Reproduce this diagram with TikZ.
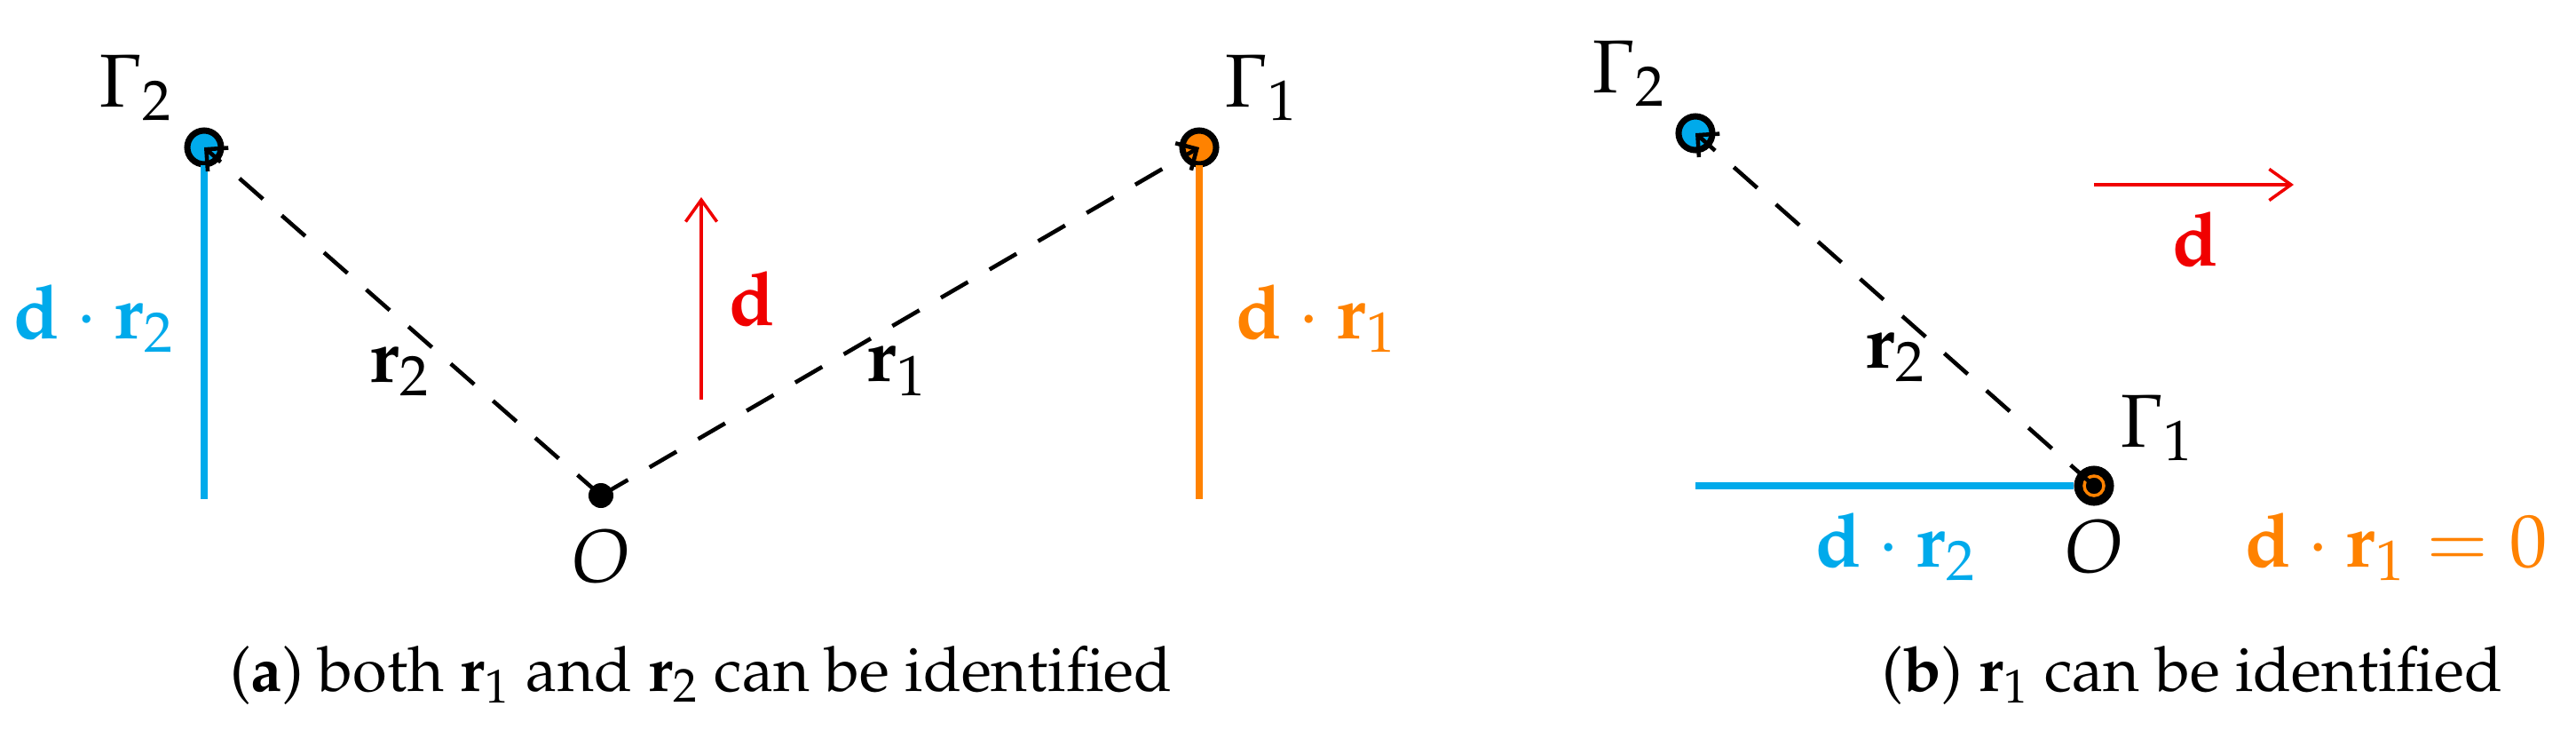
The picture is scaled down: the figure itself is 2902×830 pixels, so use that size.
\documentclass[tikz,border=0pt]{standalone}
\usepackage[T1]{fontenc}
\usepackage{mathpazo}
\usetikzlibrary{arrows.meta}
\definecolor{cblue}{RGB}{0,170,235}
\definecolor{corange}{RGB}{255,130,0}
\definecolor{cred}{RGB}{240,0,0}
\begin{document}
\begin{tikzpicture}[x=0.01cm,y=-0.01cm,
  lab/.style={font=\fontsize{24}{28}\selectfont, inner sep=0pt},
  captext/.style={font=\fontsize{20}{24}\selectfont, inner sep=0pt},
  pt/.style={circle, draw=black, line width=2pt, minimum size=0.38cm, inner sep=0pt},
  vec/.style={line width=1.3pt, dash pattern=on 10pt off 8pt, -{Straight Barb[length=5pt]}},
  dir/.style={cred, line width=1pt, -{Straight Barb[length=7pt,width=10pt]}},
  proj/.style={line width=2.3pt}]
\useasboundingbox (0,0) rectangle (2902,830);
% panel a
\node[pt, fill=cblue] (g2a) at (230,166) {};
\node[pt, fill=corange] (g1a) at (1351,166) {};
\node[circle, fill=black, minimum size=0.28cm, inner sep=0pt] (oa) at (677,558) {};
\node[lab] at (153,99) {$\Gamma_2$};
\node[lab] at (1421,99) {$\Gamma_1$};
\node[lab] at (677,627) {$O$};
\coordinate (b2t) at (230,186); \coordinate (b2b) at (230,562);
\draw[proj, cblue] (b2t) -- (b2b);
\coordinate (o1t) at (1351,186); \coordinate (o1b) at (1351,562);
\draw[proj, corange] (o1t) -- (o1b);
\node[lab, text=cblue] at (105,359) {$\mathbf{d}\cdot\mathbf{r}_2$};
\node[lab, text=corange] at (1482,359) {$\mathbf{d}\cdot\mathbf{r}_1$};
\draw[vec] (oa.center) -- (g2a.center);
\draw[vec] (oa.center) -- (g1a.center);
\node[lab] at (450,418) {$\mathbf{r}_2$};
\node[lab] at (1010,418) {$\mathbf{r}_1$};
\coordinate (da0) at (790,450); \coordinate (da1) at (790,222);
\draw[dir] (da0) -- (da1);
\node[lab, text=cred] at (847,337) {$\mathbf{d}$};
\node[captext] at (790,760) {(\textbf{a}) both $\mathbf{r}_1$ and $\mathbf{r}_2$ can be identified};
% panel b
\node[pt, fill=cblue] (g2b) at (1910,150) {};
\node[pt, fill=black] (g1b) at (2359,547) {};
\draw[corange, line width=1pt] (g1b.center) circle (0.11cm);
\node[lab] at (1835,83) {$\Gamma_2$};
\node[lab] at (2430,482) {$\Gamma_1$};
\node[lab] at (2359,616) {$O$};
\draw[vec] (g1b.center) -- (g2b.center);
\node[lab] at (2135,402) {$\mathbf{r}_2$};
\coordinate (bl) at (1910,547);
\draw[proj, cblue] (bl) -- (g1b.west);
\node[lab, text=cblue] at (2135,616) {$\mathbf{d}\cdot\mathbf{r}_2$};
\node[lab, text=corange] at (2699,616) {$\mathbf{d}\cdot\mathbf{r}_1=0$};
\coordinate (db0) at (2359,208); \coordinate (db1) at (2584,208);
\draw[dir] (db0) -- (db1);
\node[lab, text=cred] at (2473,270) {$\mathbf{d}$};
\node[captext] at (2470,760) {(\textbf{b}) $\mathbf{r}_1$ can be identified};
\end{tikzpicture}
\end{document}
